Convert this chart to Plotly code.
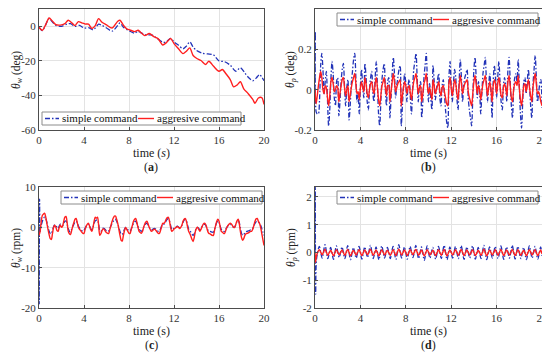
import numpy as np
import plotly.graph_objects as go

# ---------------- data ----------------
t_grid = [round(0.1 * i, 1) for i in range(201)]

# (a) theta_w (deg)
t_a_simple = [0, 0.3, 0.6, 0.9, 1.2, 1.5, 2.0, 2.5, 2.8, 3.2, 3.6, 4.0, 4.4, 4.8, 5.0, 5.3,
              5.6, 6.0, 6.5, 7.0, 7.2, 7.5, 8.0, 8.5, 8.8, 9.0, 9.5, 10.0, 10.5, 11.0, 11.3,
              11.7, 12.0, 12.4, 12.8, 13.1, 13.4, 13.7, 14.0, 14.5, 15.0, 15.5, 16.0, 16.5,
              17.0, 17.5, 17.9, 18.3, 18.6, 19.0, 19.3, 19.6, 20.0]
simple_a = [-0.5, -2.5, 1.0, 4.5, 2.5, 0.5, 0.0, 1.3, 1.5, 0.0, 0.5, -1.0, -0.8, -2.0, -1.0, 1.2,
            0.5, -1.0, -2.8, 0.5, 2.0, -0.5, -2.5, -4.0, -2.8, -3.5, -5.0, -5.0, -7.0, -9.2, -9.0,
            -7.0, -9.0, -11.0, -13.0, -11.5, -9.0, -12.0, -14.0, -15.5, -16.0, -16.5, -20.0, -20.5,
            -22.5, -26.0, -24.0, -27.0, -29.5, -31.5, -30.0, -28.0, -31.5]
t_a_aggr = [0, 0.3, 0.6, 0.9, 1.2, 1.5, 2.0, 2.3, 2.6, 3.0, 3.2, 3.5, 3.8, 4.1, 4.4, 4.7, 5.0,
            5.3, 5.6, 6.0, 6.5, 7.0, 7.2, 7.5, 7.8, 8.0, 8.5, 8.8, 9.0, 9.4, 9.8, 10.2, 10.6,
            11.0, 11.3, 11.7, 12.0, 12.4, 12.8, 13.1, 13.4, 13.7, 14.0, 14.4, 14.8, 15.1, 15.5,
            16.0, 16.3, 16.6, 17.0, 17.3, 17.6, 17.9, 18.2, 18.6, 19.0, 19.2, 19.5, 19.8, 20.0]
aggr_a = [-0.6, -2.3, 1.0, 4.8, 2.9, 1.0, 0.8, 1.5, 3.5, 1.5, 0.4, 2.7, 2.0, 1.3, 1.2, -1.3, 0.4,
          4.4, 2.3, 0.8, -1.0, 2.9, 3.5, 0.6, -1.5, -1.9, -3.1, -2.3, -3.3, -5.4, -4.2, -6.0, -7.3,
          -10.8, -9.6, -7.1, -10.0, -13.0, -15.8, -14.4, -12.5, -16.9, -18.5, -19.8, -22.1, -20.2,
          -23.0, -26.0, -25.0, -27.3, -30.8, -35.0, -34.0, -32.1, -36.2, -39.0, -42.3, -44.5,
          -41.5, -41.3, -45.2]

# (b) theta_p (deg)
t_b_simple = [0.0, 0.03] + t_grid[1:]
simple_b = [0.0, 0.29,
    -0.11, -0.12, -0.12, -0.05, 0.12, 0.18, 0.10, -0.02, 0.04, 0.09,
    -0.05, -0.18, -0.10, 0.05, 0.14, 0.08, -0.04, -0.08, 0.04, 0.06,
    -0.13, -0.06, 0.04, 0.10, 0.13, 0.02, -0.08, 0.01, 0.05, -0.15,
    -0.08, 0.03, 0.09, 0.15, 0.18, 0.06, -0.06, -0.02, -0.12, 0.02,
    0.10, 0.02, -0.04, 0.13, 0.06, -0.06, -0.10, 0.00, 0.06, 0.09,
    -0.02, -0.06, 0.06, 0.14, 0.02, -0.12, -0.18, -0.06, 0.05, 0.10,
    0.13, 0.00, -0.08, 0.04, 0.06, -0.14, -0.04, 0.08, 0.16, 0.08,
    -0.04, 0.02, 0.06, 0.10, 0.12, -0.18, -0.08, 0.02, 0.08, 0.03,
    -0.06, 0.02, 0.05, -0.04, -0.12, 0.00, 0.10, 0.14, 0.18, 0.06,
    -0.06, 0.02, 0.04, -0.14, -0.06, 0.06, 0.12, 0.18, 0.05, -0.06,
    0.03, -0.04, -0.10, 0.12, 0.04, -0.05, 0.00, 0.05, 0.08, -0.04,
    -0.08, 0.02, 0.05, -0.02, -0.10, -0.16, -0.19, 0.06, 0.14, 0.02,
    -0.06, 0.03, 0.10, 0.06, -0.04, -0.10, 0.04, 0.15, 0.06, -0.06,
    0.02, 0.06, 0.08, 0.10, -0.04, -0.10, -0.14, -0.18, -0.04, 0.10,
    0.16, 0.06, -0.04, 0.04, 0.00, -0.12, -0.02, 0.08, 0.12, 0.16,
    0.04, -0.06, 0.02, 0.08, 0.00, -0.14, 0.04, 0.12, 0.06, -0.04,
    0.06, 0.14, 0.04, -0.06, -0.10, 0.02, 0.06, 0.02, -0.06, 0.10,
    0.16, 0.04, -0.08, -0.14, 0.00, 0.06, 0.08, 0.04, 0.15, 0.02,
    -0.12, -0.19, -0.06, 0.04, 0.06, -0.02, 0.04, 0.10, 0.02, -0.08,
    -0.14, 0.02, 0.10, 0.17, 0.06, -0.06, -0.02, 0.03, 0.05, -0.09]
t_b_aggr = t_grid
aggr_b = [0.0,
    -0.07, -0.03, 0.02, 0.06, 0.09, 0.06, 0.00, -0.02, 0.02, 0.01,
    -0.04, -0.08, -0.03, 0.04, 0.06, 0.03, -0.01, 0.00, 0.02, 0.01,
    -0.06, -0.02, 0.02, 0.05, 0.06, 0.01, -0.03, 0.00, 0.02, -0.06,
    -0.03, 0.01, 0.04, 0.06, 0.08, 0.03, -0.02, -0.01, -0.05, 0.01,
    0.04, 0.01, -0.01, 0.06, 0.03, -0.02, -0.04, 0.00, 0.03, 0.04,
    0.00, -0.02, 0.03, 0.06, 0.01, -0.05, -0.08, -0.03, 0.02, 0.04,
    0.06, 0.01, -0.03, 0.02, 0.02, -0.06, -0.01, 0.04, 0.08, 0.04,
    -0.01, 0.01, 0.03, 0.04, 0.05, -0.08, -0.03, 0.01, 0.04, 0.02,
    -0.02, 0.01, 0.02, -0.02, -0.05, 0.00, 0.04, 0.06, 0.08, 0.03,
    -0.02, 0.01, 0.02, -0.06, -0.02, 0.03, 0.05, 0.08, 0.02, -0.02,
    0.01, -0.02, -0.05, 0.05, 0.02, -0.02, 0.00, 0.02, 0.04, -0.01,
    -0.03, 0.01, 0.02, -0.01, -0.04, -0.07, -0.08, 0.03, 0.06, 0.01,
    -0.03, 0.01, 0.05, 0.03, -0.02, -0.05, 0.02, 0.07, 0.03, -0.02,
    0.01, 0.03, 0.04, 0.05, -0.01, -0.04, -0.06, -0.08, -0.02, 0.04,
    0.07, 0.03, -0.02, 0.02, 0.00, -0.05, -0.01, 0.03, 0.05, 0.07,
    0.02, -0.03, 0.01, 0.04, 0.00, -0.06, 0.02, 0.05, 0.03, -0.02,
    0.03, 0.06, 0.02, -0.03, -0.04, 0.01, 0.03, 0.01, -0.03, 0.04,
    0.07, 0.02, -0.04, -0.06, 0.00, 0.03, 0.04, 0.02, 0.07, 0.01,
    -0.05, -0.08, -0.03, 0.02, 0.03, -0.01, 0.02, 0.05, 0.01, -0.03,
    -0.06, 0.01, 0.05, 0.08, 0.03, -0.02, -0.01, -0.03, -0.06, -0.08]

# (c) theta_w dot (rpm)
t_c_simple = [0.0, 0.02, 0.05] + t_grid[1:]
simple_c = [0.0, -19.0, 7.0,
    -1.0, 0.5, 1.5, 2.2, 2.5, 2.2, 1.2, 0.0, -1.0, -1.5,
    -1.6, -0.8, 0.2, 0.6, 0.5, 0.0, -0.3, 0.3, 0.8, 0.5,
    0.4, 1.0, 1.5, 1.6, 0.8, -0.3, -1.0, -1.2, -0.5, 0.2,
    0.8, 1.3, 1.5, 1.2, 0.3, -0.2, -0.5, -0.8, -1.0, -0.8,
    -0.2, 0.3, 0.6, 0.8, 0.3, -0.3, -0.6, 0.0, 1.0, 1.6,
    1.8, 1.8, 0.8, -0.8, -1.0, -0.5, -0.2, -0.3, -0.6, -0.9,
    -1.0, -0.9, -0.2, 0.4, 1.0, 1.5, 1.9, 2.0, 1.5, 0.8,
    0.0, -1.0, -1.6, -1.8, -1.2, -0.5, 0.0, -0.2, -0.6, -0.9,
    -1.0, -0.4, 0.3, 1.0, 1.4, 1.5, 1.0, 0.2, -0.5, -0.8,
    -1.0, -0.7, 0.0, 0.5, 0.9, 1.0, 0.6, 0.0, -0.4, -0.6,
    -0.5, -0.3, -0.3, -0.5, -0.8, -1.0, -0.9, -0.4, 0.3, 0.8,
    0.8, 1.0, 1.6, 2.0, 2.2, 1.6, 0.5, -0.5, -0.5, -0.2,
    0.0, 0.2, 0.3, 0.1, -0.1, 0.1, 0.5, 1.2, 1.8, 2.0,
    1.6, 0.6, -0.4, -0.8, -1.2, -1.7, -2.0, -1.6, -0.8, -0.2,
    0.0, -0.3, -0.6, -0.3, 0.2, 0.6, 0.8, 0.6, 0.0, -0.6,
    -1.0, -1.0, -1.1, -1.2, -1.2, -0.5, 0.4, 1.2, 1.6, 1.3,
    0.4, -0.5, -0.8, -1.0, -1.0, -0.5, 0.0, 0.4, 0.6, 0.8,
    0.6, 0.3, 0.0, 0.1, 0.8, 1.5, 1.8, 1.2, -0.2, -1.5,
    -2.0, -1.8, -1.4, -1.1, -1.0, -0.9, -0.8, -0.6, -0.5, -0.2,
    0.4, 1.0, 1.4, 1.5, 1.3, 1.0, 0.5, -0.3, -1.2, -2.0]
t_c_aggr = t_grid
aggr_c = [-2.0,
    -1.0, 1.5, 3.0, 3.3, 3.5, 2.5, 1.0, -0.5, -1.8, -2.8,
    -3.0, -1.5, 0.0, 0.5, 0.0, -0.8, -1.0, 0.0, 0.5, 0.0,
    0.3, 1.5, 2.5, 2.7, 1.2, -1.0, -1.6, -1.8, -0.8, 0.3,
    1.2, 2.0, 2.2, 1.2, 0.0, -0.5, -0.8, -1.2, -1.5, -1.5,
    -0.5, 0.3, 0.8, 1.0, 0.2, -0.6, -1.0, 0.0, 1.5, 2.5,
    2.3, 2.5, 0.5, -2.0, -1.6, -0.8, -0.4, -0.5, -1.0, -1.3,
    -1.5, -1.5, -0.5, 0.5, 1.5, 2.3, 2.8, 2.8, 2.0, 1.0,
    -0.5, -2.0, -3.2, -3.4, -2.0, -0.8, 0.0, -0.5, -1.0, -1.5,
    -1.5, -0.5, 0.5, 1.5, 2.0, 2.2, 1.2, 0.0, -1.0, -1.3,
    -1.5, -1.0, 0.0, 0.8, 1.3, 1.5, 0.8, 0.0, -0.6, -1.0,
    -0.8, -0.5, -0.5, -0.8, -1.2, -1.5, -1.5, -0.8, 0.2, 1.0,
    1.0, 1.3, 2.0, 2.4, 2.5, 1.5, 0.0, -1.0, -0.8, -0.4,
    -0.2, 0.0, 0.2, 0.0, -0.3, 0.0, 0.5, 1.5, 2.0, 2.2,
    1.5, 0.2, -1.0, -1.5, -2.2, -3.0, -3.5, -2.5, -1.0, -0.2,
    0.0, -0.5, -1.0, -0.5, 0.2, 0.8, 1.0, 0.8, 0.0, -1.0,
    -1.5, -1.6, -1.8, -2.0, -2.0, -0.8, 0.5, 1.5, 2.0, 1.5,
    0.2, -1.0, -1.2, -1.5, -1.5, -0.8, 0.0, 0.5, 0.8, 1.0,
    0.8, 0.4, 0.0, 0.0, 0.8, 1.6, 2.0, 1.0, -1.0, -2.5,
    -3.2, -2.8, -2.0, -1.6, -1.5, -1.4, -1.2, -1.0, -1.0, -0.5,
    0.5, 1.5, 2.1, 2.2, 1.5, 1.0, 0.0, -1.5, -3.0, -4.5]

# (d) theta_p dot (rpm) -- samples at the swing extremes
t_d_ext = [round(0.13 + 0.25 * k, 2) for k in range(80)]
t_d_simple = [0.0, 0.02, 0.06] + t_d_ext + [20.0]
simple_d = [0.0, 2.6, -1.5,
    -0.25, 0.22, -0.20, 0.28, -0.22, 0.18, -0.25, 0.24, -0.18, 0.20,
    -0.22, 0.25, -0.26, 0.18, -0.20, 0.22, -0.24, 0.20, -0.18, 0.26,
    -0.22, 0.20, -0.26, 0.24, -0.20, 0.18, -0.22, 0.22, -0.25, 0.28,
    -0.20, 0.20, -0.24, 0.22, -0.18, 0.26, -0.22, 0.20, -0.28, 0.24,
    -0.20, 0.18, -0.24, 0.22, -0.22, 0.26, -0.26, 0.20, -0.20, 0.22,
    -0.22, 0.25, -0.25, 0.20, -0.20, 0.24, -0.24, 0.18, -0.22, 0.26,
    -0.26, 0.20, -0.20, 0.22, -0.22, 0.24, -0.25, 0.20, -0.20, 0.26,
    -0.24, 0.22, -0.22, 0.18, -0.26, 0.24, -0.20, 0.22, -0.24, 0.20,
    -0.12]
t_d_aggr = [0.0, 0.05] + t_d_ext + [20.0]
aggr_d = [0.0, -0.35,
    -0.12, 0.10, -0.08, 0.12, -0.10, 0.08, -0.12, 0.10, -0.08, 0.09,
    -0.10, 0.11, -0.12, 0.08, -0.09, 0.10, -0.11, 0.09, -0.08, 0.12,
    -0.10, 0.09, -0.12, 0.10, -0.09, 0.08, -0.10, 0.10, -0.11, 0.12,
    -0.09, 0.09, -0.11, 0.10, -0.08, 0.11, -0.10, 0.09, -0.12, 0.10,
    -0.09, 0.08, -0.11, 0.10, -0.10, 0.11, -0.12, 0.09, -0.09, 0.10,
    -0.10, 0.11, -0.11, 0.09, -0.09, 0.10, -0.11, 0.08, -0.10, 0.12,
    -0.12, 0.09, -0.09, 0.10, -0.10, 0.11, -0.11, 0.09, -0.09, 0.11,
    -0.11, 0.10, -0.10, 0.08, -0.12, 0.10, -0.09, 0.10, -0.11, 0.09,
    -0.05]

# axis ticks
x_ticks = [0, 4, 8, 12, 16, 20]
x_ticktext = ["0", "4", "8", "12", "16", "20"]
ya_ticks = [-60, -40, -20, 0]
ya_text = ["-60", "-40", "-20", "0"]
yb_ticks = [-0.2, 0, 0.2, 0.4]
yb_text = ["-0.2", "0", "0.2", "0.4"]
yc_ticks = [-20, -10, 0, 10]
yc_text = ["-20", "-10", "0", "10"]
yd_ticks = [-2, -1, 0, 1, 2]
yd_text = ["-2", "-1", "0", "1", "2"]

names = ["simple command", "aggresive command"]

# ---------------- figure ----------------
FONT = "Liberation Serif"
BLUE = "#2233b8"
RED = "#ff1f1f"
BLUE_DASH = "5px,2px,1.5px,2px"

fig = go.Figure()

panels = [
    ("x", "y", t_a_simple, simple_a, t_a_aggr, aggr_a),
    ("x2", "y2", t_b_simple, simple_b, t_b_aggr, aggr_b),
    ("x3", "y3", t_c_simple, simple_c, t_c_aggr, aggr_c),
    ("x4", "y4", t_d_simple, simple_d, t_d_aggr, aggr_d),
]
for xa, ya, ts, vs, tg, vg in panels:
    fig.add_trace(go.Scatter(x=ts, y=vs, mode="lines", name=names[0], xaxis=xa, yaxis=ya,
                             showlegend=False,
                             line=dict(color=BLUE, width=1.3, dash=BLUE_DASH,
                                       shape="spline", smoothing=0.8)))
    fig.add_trace(go.Scatter(x=tg, y=vg, mode="lines", name=names[1], xaxis=xa, yaxis=ya,
                             showlegend=False,
                             line=dict(color=RED, width=1.4, shape="spline", smoothing=0.8)))

# the page body adds an 8 px margin, so the figure is placed 8 px in from the top-left
OFF = 8
W, H = 550 - OFF, 357 - OFF
def px(x): return (x - OFF) / W
def py(y): return 1 - (y - OFF) / H

xl, xr = px(39), px(264)
xl2, xr2 = px(315), px(542)
yt1, yb1 = py(9), py(130)
yt2, yb2 = py(187), py(308)

def xaxis(domain, anchor):
    return dict(domain=domain, anchor=anchor, range=[0, 20], tickvals=x_ticks,
                ticktext=x_ticktext, showgrid=True, gridcolor="#e3e3e3", gridwidth=1,
                zeroline=False, showline=True, linecolor="#4d4d4d", linewidth=1, mirror=True,
                ticks="inside", ticklen=3, tickcolor="#4d4d4d", automargin=False,
                tickfont=dict(family=FONT, size=11, color="#333333"))

def yaxis(domain, anchor, rng, tv, tt):
    return dict(domain=domain, anchor=anchor, range=rng, tickvals=tv, ticktext=tt,
                showgrid=True, gridcolor="#e3e3e3", gridwidth=1, zeroline=False,
                showline=True, linecolor="#4d4d4d", linewidth=1, mirror=True,
                ticks="inside", ticklen=3, tickcolor="#4d4d4d", automargin=False,
                tickfont=dict(family=FONT, size=11, color="#333333"))

fig.update_layout(
    template="none",
    width=W, height=H, margin=dict(l=0, r=0, t=0, b=0, pad=0, autoexpand=False),
    paper_bgcolor="white", plot_bgcolor="white",
    font=dict(family=FONT, size=11, color="#222222"),
    xaxis=xaxis([xl, xr], "y"),
    yaxis=yaxis([yb1, yt1], "x", [-60, 10], ya_ticks, ya_text),
    xaxis2=xaxis([xl2, xr2], "y2"),
    yaxis2=yaxis([yb1, yt1], "x2", [-0.2, 0.4], yb_ticks, yb_text),
    xaxis3=xaxis([xl, xr], "y3"),
    yaxis3=yaxis([yb2, yt2], "x3", [-20, 10], yc_ticks, yc_text),
    xaxis4=xaxis([xl2, xr2], "y4"),
    yaxis4=yaxis([yb2, yt2], "x4", [-2, 2.36], yd_ticks, yd_text),
    showlegend=False,
)

annots = []
shapes = []
def txt(x, y, s, size=12, angle=0, xanchor="center", color="#222222"):
    annots.append(dict(x=px(x), y=py(y), xref="paper", yref="paper", text=s, showarrow=False,
                       textangle=angle, xanchor=xanchor, yanchor="middle",
                       font=dict(family=FONT, size=size, color=color)))

# legend boxes drawn by hand (box left/top/right/bottom in page pixels)
def legend_box(x0, y0, x1, y1):
    shapes.append(dict(type="rect", xref="paper", yref="paper",
                       x0=px(x0), x1=px(x1), y0=py(y1), y1=py(y0),
                       fillcolor="white", line=dict(color="#8c8c8c", width=1), layer="above"))
    yc = (y0 + y1) / 2
    shapes.append(dict(type="line", xref="paper", yref="paper", x0=px(x0 + 3), x1=px(x0 + 17),
                       y0=py(yc), y1=py(yc), line=dict(color=BLUE, width=1.4, dash=BLUE_DASH),
                       layer="above"))
    txt(x0 + 18, yc, names[0], size=11, xanchor="left", color="#111111")
    shapes.append(dict(type="line", xref="paper", yref="paper", x0=px(x0 + 96), x1=px(x0 + 112),
                       y0=py(yc), y1=py(yc), line=dict(color=RED, width=1.4), layer="above"))
    txt(x0 + 113, yc, names[1], size=11, xanchor="left", color="#111111")

legend_box(42, 112, 241, 125)
legend_box(337, 13, 538, 26)
legend_box(61, 191, 262, 204)
legend_box(337, 191, 538, 204)

txt(151, 153, "time (<i>s</i>)")
txt(428, 153, "time (s)")
txt(151, 331, "time (s)")
txt(428, 331, "time (s)")
txt(151, 167, "(<b>a</b>)")
txt(428, 167, "(<b>b</b>)")
txt(151, 345, "(<b>c</b>)")
txt(428, 345, "(<b>d</b>)")
txt(17, 70, "<i>θ<sub>w</sub></i> (deg)", size=11.5, angle=-90)
txt(291, 70, "<i>θ<sub>p</sub></i> (deg)", size=11.5, angle=-90)
txt(17, 248, "<i>θ̇<sub>w</sub></i> (rpm)", size=11.5, angle=-90)
txt(292, 248, "<i>θ̇<sub>p</sub></i> (rpm)", size=11.5, angle=-90)
fig.update_layout(annotations=annots, shapes=shapes)

fig.write_html("out.html")
